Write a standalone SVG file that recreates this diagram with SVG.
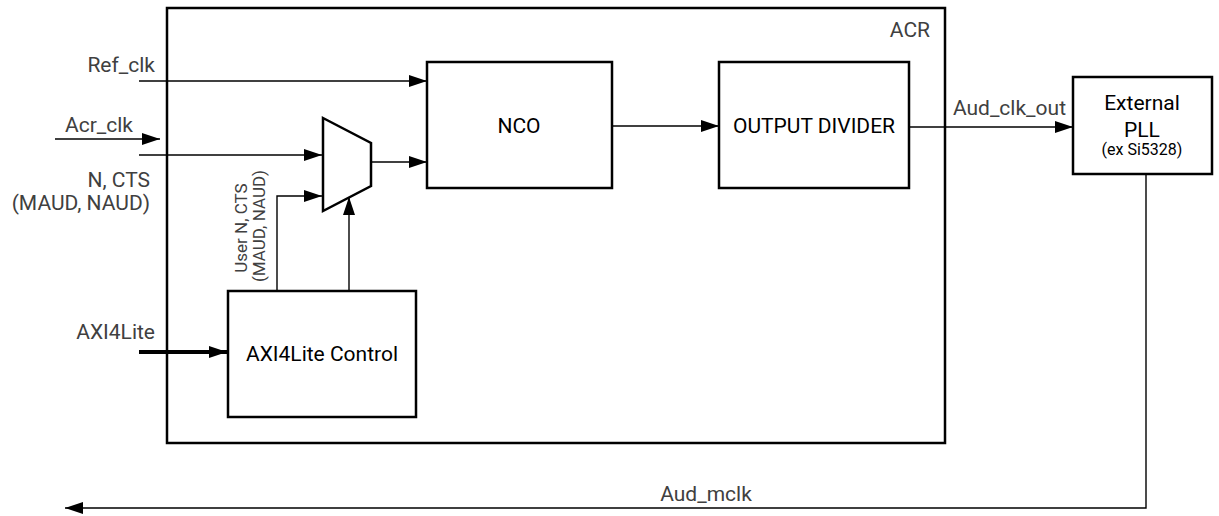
<svg xmlns="http://www.w3.org/2000/svg" width="1219" height="516" viewBox="0 0 1219 516">
<style>
.box{fill:#fff;stroke:#000;stroke-width:2.5}
.ln{fill:none;stroke:#000;stroke-width:1.4}
.thk{fill:none;stroke:#000;stroke-width:4}
.t{font-family:Roboto,"Liberation Sans",sans-serif;font-size:21px;fill:#000}
.g{font-family:Roboto,"Liberation Sans",sans-serif;font-size:21px;fill:#404040}
.s{font-family:Roboto,"Liberation Sans",sans-serif;font-size:16px;fill:#000}
.r{font-family:Roboto,"Liberation Sans",sans-serif;font-size:17px;fill:#404040}
</style>
<defs>
<marker id="ah" markerWidth="18" markerHeight="12" refX="18" refY="6" orient="auto" markerUnits="userSpaceOnUse">
<path d="M0,0 L18,6 L0,12 Z" fill="#000"/>
</marker>
</defs>
<g id="acr">
<rect class="box" x="167" y="8" width="778" height="435"/>
<text class="g" x="930" y="37" text-anchor="end">ACR</text>
</g>
<g id="nco">
<rect class="box" x="427" y="62" width="185" height="126"/>
<text class="t" x="519" y="133" text-anchor="middle">NCO</text>
</g>
<g id="outdiv">
<rect class="box" x="719" y="62" width="190" height="126"/>
<text class="t" x="814" y="133" text-anchor="middle">OUTPUT DIVIDER</text>
</g>
<g id="pll">
<rect class="box" x="1073" y="77" width="139" height="97"/>
<text class="t" x="1142" y="110" text-anchor="middle">External</text>
<text class="t" x="1142" y="137" text-anchor="middle">PLL</text>
<text class="s" x="1142" y="155" text-anchor="middle">(ex Si5328)</text>
</g>
<g id="axi">
<rect class="box" x="228" y="291" width="188" height="126"/>
<text class="t" x="322" y="361" text-anchor="middle">AXI4Lite Control</text>
</g>
<g id="mux">
<polygon class="box" points="323,118 371,143 371,186 323,211"/>
</g>
<g id="connectors">
<line class="ln" x1="139" y1="81" x2="427" y2="81" marker-end="url(#ah)"/>
<line class="ln" x1="55" y1="139" x2="160" y2="139" marker-end="url(#ah)"/>
<line class="ln" x1="139" y1="155" x2="322" y2="155" marker-end="url(#ah)"/>
<line class="ln" x1="371" y1="162" x2="427" y2="162" marker-end="url(#ah)"/>
<polyline class="ln" points="277,291 277,196 322,196" marker-end="url(#ah)"/>
<line class="ln" x1="349" y1="291" x2="349" y2="197" marker-end="url(#ah)"/>
<line class="thk" x1="139" y1="352" x2="227" y2="352" marker-end="url(#ah)"/>
<line class="ln" x1="612" y1="126" x2="719" y2="126" marker-end="url(#ah)"/>
<line class="ln" x1="909" y1="127" x2="1073" y2="127" marker-end="url(#ah)"/>
<polyline class="ln" points="1146,174 1146,508 65,508" marker-end="url(#ah)"/>
</g>
<g id="labels">
<text class="g" x="155" y="72" text-anchor="end">Ref_clk</text>
<text class="g" x="133" y="132" text-anchor="end">Acr_clk</text>
<text class="g" x="150" y="187" text-anchor="end">N, CTS</text>
<text class="g" x="150" y="210" text-anchor="end">(MAUD, NAUD)</text>
<text class="g" x="155" y="339" text-anchor="end">AXI4Lite</text>
<text class="g" x="1066" y="115" text-anchor="end">Aud_clk_out</text>
<text class="g" x="706" y="501" text-anchor="middle">Aud_mclk</text>
<text class="r" transform="translate(247,228) rotate(-90)" text-anchor="middle">User N, CTS</text>
<text class="r" transform="translate(265,226) rotate(-90)" text-anchor="middle">(MAUD, NAUD)</text>
</g>
</svg>
